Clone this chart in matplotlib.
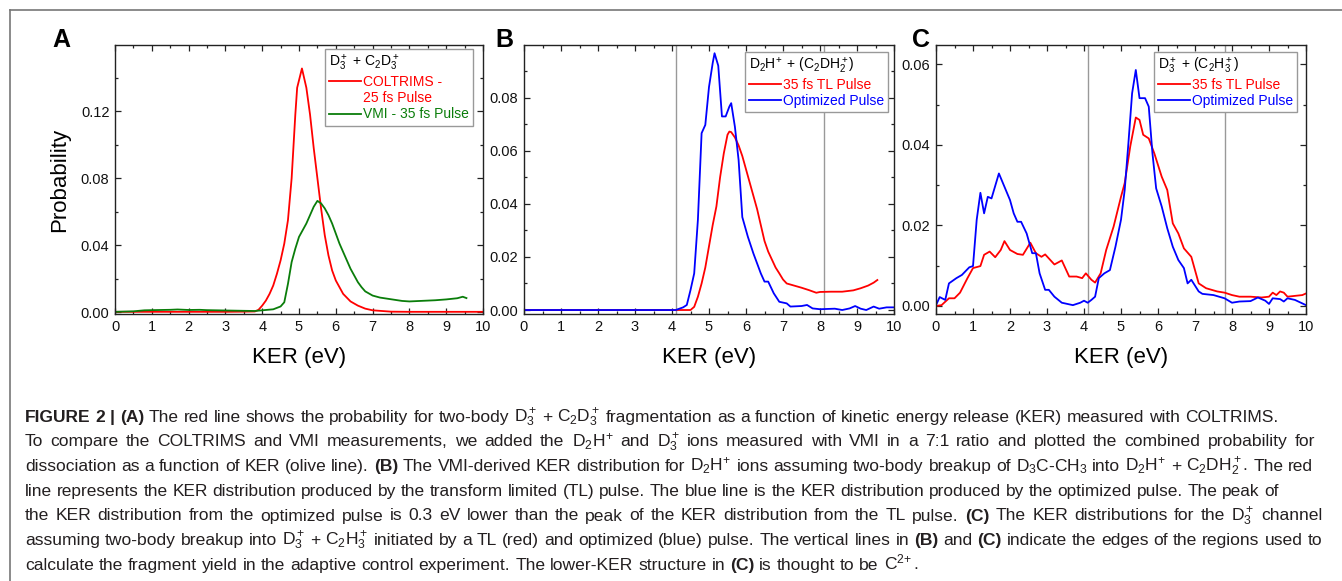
import numpy as np
import matplotlib
matplotlib.use('Agg')
import matplotlib.pyplot as plt
from matplotlib.lines import Line2D
from matplotlib.ticker import MultipleLocator, FormatStrFormatter
from matplotlib import font_manager

# ---- data ----
# (A) D3+ + C2D3+
a_red_x = [0, 0.5, 1, 1.5, 2, 2.5, 3, 3.5, 3.8, 3.9, 4.0, 4.1, 4.2, 4.3, 4.4, 4.5, 4.6, 4.7, 4.8,
           4.9, 4.95, 5.08, 5.2, 5.3, 5.4, 5.5, 5.6, 5.7, 5.8, 5.9, 6.0, 6.2, 6.4, 6.6, 6.8, 7.0,
           7.5, 8.0, 9.0, 10.0]
a_red_y = [0.0003, 0.0003, 0.0003, 0.0003, 0.0003, 0.0003, 0.0003, 0.0004, 0.0005, 0.0015, 0.004,
           0.007, 0.011, 0.016, 0.023, 0.031, 0.041, 0.055, 0.080, 0.118, 0.134, 0.1455, 0.134,
           0.118, 0.098, 0.080, 0.062, 0.046, 0.034, 0.025, 0.019, 0.011, 0.0065, 0.004, 0.0022,
           0.0012, 0.0004, 0.0003, 0.0003, 0.0003]
a_grn_x = [0, 0.5, 0.8, 1.0, 1.5, 1.7, 2.0, 2.3, 2.5, 3.0, 3.5, 3.8, 4.0, 4.3, 4.5, 4.6, 4.7, 4.8,
           4.9, 5.0, 5.1, 5.2, 5.3, 5.4, 5.5, 5.6, 5.7, 5.8, 5.9, 6.0, 6.1, 6.2, 6.3, 6.4, 6.5,
           6.6, 6.7, 6.8, 7.0, 7.2, 7.5, 7.8, 8.0, 8.3, 8.7, 9.0, 9.3, 9.45, 9.55]
a_grn_y = [0.0003, 0.0006, 0.0012, 0.0013, 0.0015, 0.0017, 0.0014, 0.0015, 0.0013, 0.0011, 0.0009,
           0.0008, 0.0012, 0.0018, 0.0035, 0.006, 0.017, 0.030, 0.038, 0.045, 0.049, 0.053, 0.058,
           0.063, 0.0665, 0.065, 0.062, 0.058, 0.053, 0.047, 0.041, 0.036, 0.031, 0.026, 0.022,
           0.018, 0.015, 0.0125, 0.010, 0.0088, 0.0078, 0.0068, 0.0065, 0.0068, 0.0072, 0.0077,
           0.0084, 0.0093, 0.0085]

# (B) D2H+ + (C2DH2+)
b_red_x = [0, 4.5, 4.6, 4.7, 4.8, 4.9, 5.0, 5.1, 5.2, 5.3, 5.4, 5.5, 5.55, 5.6, 5.7, 5.8, 5.9, 6.0,
           6.1, 6.2, 6.3, 6.4, 6.5, 6.6, 6.7, 6.8, 6.9, 7.0, 7.1, 7.3, 7.5, 7.7, 7.9, 8.0, 8.3,
           8.6, 8.9, 9.1, 9.3, 9.45, 9.55]
b_red_y = [0, 0, 0.0012, 0.005, 0.010, 0.016, 0.024, 0.032, 0.039, 0.050, 0.059, 0.066, 0.0672,
           0.067, 0.065, 0.062, 0.058, 0.053, 0.048, 0.043, 0.038, 0.032, 0.026, 0.022, 0.019,
           0.016, 0.0138, 0.0115, 0.010, 0.0092, 0.0084, 0.0075, 0.0065, 0.0068, 0.0069, 0.0069,
           0.0074, 0.0082, 0.0092, 0.0103, 0.0113]
b_blu_x = [0, 4.1, 4.3, 4.4, 4.5, 4.6, 4.7, 4.8, 4.9, 5.0, 5.1, 5.15, 5.25, 5.35, 5.45, 5.55, 5.6,
           5.7, 5.8, 5.9, 6.05, 6.2, 6.4, 6.5, 6.6, 6.75, 6.9, 7.1, 7.2, 7.5, 7.65, 7.8, 8.0, 8.4,
           8.6, 8.8, 8.95, 9.1, 9.25, 9.45, 9.6, 9.8, 10.0]
b_blu_y = [0, 0, 0.001, 0.0019, 0.0075, 0.0138, 0.034, 0.0666, 0.0697, 0.084, 0.093, 0.0967, 0.092,
           0.0729, 0.0729, 0.0766, 0.0779, 0.069, 0.0565, 0.035, 0.0276, 0.0213, 0.0138, 0.0107,
           0.0107, 0.0063, 0.0031, 0.0025, 0.0013, 0.0015, 0.0019, 0.0006, 0.0003, 0.0005, 0.0,
           0.0006, 0.0015, 0.0005, 0.0, 0.0013, 0.0005, 0.001, 0.001]

# (C) D3+ + (C2H3+)
c_blu_x = [0, 0.1, 0.25, 0.35, 0.55, 0.7, 0.9, 1.0, 1.1, 1.2, 1.3, 1.4, 1.5, 1.7, 1.85, 2.0, 2.1,
           2.2, 2.3, 2.45, 2.6, 2.7, 2.8, 2.95, 3.05, 3.2, 3.4, 3.7, 3.9, 4.0, 4.1, 4.2, 4.3, 4.4,
           4.55, 4.7, 4.85, 5.0, 5.1, 5.2, 5.3, 5.4, 5.5, 5.65, 5.75, 5.85, 5.95, 6.1, 6.25, 6.4,
           6.55, 6.7, 6.8, 6.9, 7.1, 7.2, 7.5, 7.8, 8.0, 8.2, 8.5, 8.7, 8.9, 9.0, 9.1, 9.3, 9.4,
           9.5, 9.7, 10.0]
c_blu_y = [0.0002, 0.0022, 0.0015, 0.0056, 0.0069, 0.0077, 0.0096, 0.0099, 0.0214, 0.0281, 0.023,
           0.0271, 0.0267, 0.0329, 0.0296, 0.0263, 0.023, 0.0209, 0.0209, 0.018, 0.0131, 0.0131,
           0.0081, 0.004, 0.004, 0.0023, 0.0008, 0.0002, 0.0008, 0.0013, 0.0008, 0.0015, 0.0023,
           0.0069, 0.0081, 0.0089, 0.0147, 0.0214, 0.0288, 0.0404, 0.0528, 0.0586, 0.0516, 0.0516,
           0.0495, 0.0379, 0.0292, 0.0247, 0.0193, 0.0147, 0.0114, 0.0094, 0.0056, 0.0065, 0.0036,
           0.003, 0.0027, 0.0019, 0.0008, 0.0011, 0.0012, 0.0021, 0.0013, 0.0005, 0.0019, 0.0017,
           0.0011, 0.0019, 0.0015, 0.0002]
c_red_x = [0, 0.15, 0.35, 0.5, 0.65, 0.85, 1.0, 1.2, 1.3, 1.45, 1.6, 1.75, 1.85, 2.0, 2.2, 2.35,
           2.55, 2.7, 2.85, 2.95, 3.2, 3.4, 3.6, 3.8, 3.95, 4.05, 4.2, 4.3, 4.45, 4.6, 4.8, 5.0,
           5.1, 5.25, 5.4, 5.5, 5.6, 5.75, 5.9, 6.1, 6.25, 6.4, 6.55, 6.7, 6.9, 7.1, 7.3, 7.6, 7.8,
           8.0, 8.2, 8.5, 8.8, 9.0, 9.1, 9.2, 9.3, 9.4, 9.5, 9.7, 9.9, 10.0]
c_red_y = [0, 0.0002, 0.0019, 0.0019, 0.0033, 0.0069, 0.0094, 0.0099, 0.0127, 0.0135, 0.0121,
           0.0139, 0.0161, 0.0139, 0.0129, 0.0127, 0.0157, 0.0131, 0.0122, 0.0128, 0.0103, 0.0113,
           0.0073, 0.0073, 0.0069, 0.0081, 0.0065, 0.0058, 0.0081, 0.0139, 0.0197, 0.0271, 0.0305,
           0.0396, 0.0468, 0.0462, 0.0425, 0.0416, 0.0379, 0.0321, 0.0288, 0.0205, 0.018, 0.0143,
           0.0122, 0.0056, 0.0044, 0.0036, 0.0033, 0.0027, 0.0023, 0.0023, 0.0021, 0.0023, 0.0033,
           0.0027, 0.0036, 0.0033, 0.0023, 0.0025, 0.0027, 0.0031]

b_edges = [4.1, 8.1]
c_edges = [4.1, 7.8]

caption = [
    r"**FIGURE 2 | (A)** The red line shows the probability for two-body $\mathrm{D_3^+}$ + $\mathrm{C_2D_3^+}$ fragmentation as a function of kinetic energy release (KER) measured with COLTRIMS.",
    r"To compare the COLTRIMS and VMI measurements, we added the $\mathrm{D_2H^{\!+}}$ and $\mathrm{D_3^+}$ ions measured with VMI in a 7:1 ratio and plotted the combined probability for",
    r"dissociation as a function of KER (olive line). **(B)** The VMI-derived KER distribution for $\mathrm{D_2H^{\!+}}$ ions assuming two-body breakup of $\mathrm{D_3C}$-$\mathrm{CH_3}$ into $\mathrm{D_2H^{\!+}}$ + $\mathrm{C_2DH_2^+}$. The red",
    r"line represents the KER distribution produced by the transform limited (TL) pulse. The blue line is the KER distribution produced by the optimized pulse. The peak of",
    r"the KER distribution from the optimized pulse is 0.3 eV lower than the peak of the KER distribution from the TL pulse. **(C)** The KER distributions for the $\mathrm{D_3^+}$ channel",
    r"assuming two-body breakup into $\mathrm{D_3^+}$ + $\mathrm{C_2H_3^+}$ initiated by a TL (red) and optimized (blue) pulse. The vertical lines in **(B)** and **(C)** indicate the edges of the regions used to",
    r"calculate the fragment yield in the adaptive control experiment. The lower-KER structure in **(C)** is thought to be $\mathrm{C^{2\!+}}$.",
]
caption_right = [1278, 1315, 1313, 1279, 1322, 1322, None]

# ---- fonts ----
names = {f.name for f in font_manager.fontManager.ttflist}
base_font = 'Liberation Sans'
narrow_font = 'Liberation Sans Narrow' if 'Liberation Sans Narrow' in names else None
plt.rcParams['font.family'] = [base_font, 'DejaVu Sans']
plt.rcParams['mathtext.fontset'] = 'custom'
plt.rcParams['mathtext.rm'] = base_font
plt.rcParams['mathtext.it'] = base_font + ':italic'
plt.rcParams['mathtext.bf'] = base_font + ':bold'

W, H = 1342, 581
fig = plt.figure(figsize=(W / 100, H / 100), dpi=100)

red = '#ff0000'
green = '#0a7d0a'
blue = '#0000ff'


def box(l, r, t, b):
    return [l / W, 1 - b / H, (r - l) / W, (b - t) / H]


def style(ax, ylim, ymaj, ymin):
    ax.set_xlim(0, 10)
    ax.set_ylim(*ylim)
    ax.xaxis.set_major_locator(MultipleLocator(1))
    ax.xaxis.set_minor_locator(MultipleLocator(0.5))
    ax.yaxis.set_major_locator(MultipleLocator(ymaj))
    ax.yaxis.set_minor_locator(MultipleLocator(ymin))
    ax.yaxis.set_major_formatter(FormatStrFormatter('%.2f'))
    ax.tick_params(which='both', direction='in', top=True, right=True, color='#222',
                   labelsize=10.5, labelcolor='#111', pad=4, width=0.9)
    ax.tick_params(which='major', length=4)
    ax.tick_params(which='minor', length=2.5)
    for s in ax.spines.values():
        s.set_linewidth(1.0)
        s.set_color('#222')


def legend(ax, handles, labels, colors, title, anchor):
    leg = ax.legend(handles, labels, title=title, loc='upper right', bbox_to_anchor=anchor,
                    borderaxespad=0, fontsize=10, title_fontsize=10, fancybox=False,
                    edgecolor='#999', framealpha=1, handlelength=2.3, handletextpad=0.15,
                    borderpad=0.3, labelspacing=0.15, alignment='left')
    leg.get_frame().set_linewidth(1.0)
    for t, c in zip(leg.get_texts(), colors):
        t.set_color(c)
    return leg


lw = 1.3
axA = fig.add_axes(box(115, 483, 45, 314))
la, = axA.plot(a_red_x, a_red_y, color=red, lw=lw)
lg, = axA.plot(a_grn_x, a_grn_y, color=green, lw=lw)
style(axA, (-0.001, 0.1595), 0.04, 0.02)
blank = Line2D([], [], color='none')
legend(axA, [la, blank, lg], ['COLTRIMS -', '25 fs Pulse', 'VMI - 35 fs Pulse'],
       [red, red, green], r'$\mathrm{D_3^+}$ + $\mathrm{C_2D_3^+}$', (0.973, 0.985))

axB = fig.add_axes(box(524, 894, 45, 314))
for e in b_edges:
    axB.axvline(e, color='#999', lw=1.0)
lr, = axB.plot(b_red_x, b_red_y, color=red, lw=lw)
lb, = axB.plot(b_blu_x, b_blu_y, color=blue, lw=lw)
style(axB, (-0.0015, 0.0998), 0.02, 0.01)
legend(axB, [lr, lb], ['35 fs TL Pulse', 'Optimized Pulse'], [red, blue],
       r'$\mathrm{D_2H^{\!+}}$ + ($\mathrm{C_2DH_2^+}$)', (0.984, 0.974))

axC = fig.add_axes(box(936, 1306, 45, 314))
for e in c_edges:
    axC.axvline(e, color='#999', lw=1.0)
lr, = axC.plot(c_red_x, c_red_y, color=red, lw=lw)
lb, = axC.plot(c_blu_x, c_blu_y, color=blue, lw=lw)
style(axC, (-0.002, 0.0648), 0.02, 0.01)
legend(axC, [lr, lb], ['35 fs TL Pulse', 'Optimized Pulse'], [red, blue],
       r'$\mathrm{D_3^+}$ + ($\mathrm{C_2H_3^+}$)', (0.976, 0.974))

# axis titles and panel letters
for cx in (299, 709, 1121):
    fig.text(cx / W, 1 - 358 / H, 'KER (eV)', ha='center', va='center', fontsize=16)
fig.text(60 / W, 1 - 180 / H, 'Probability', rotation=90, ha='center', va='center', fontsize=16)
for lx, letter in ((52, 'A'), (495, 'B'), (912, 'C')):
    fig.text(lx / W, 1 - 47 / H, letter, ha='left', va='baseline', fontsize=18, fontweight='bold')

# frame around the figure
fig.add_artist(Line2D([10 / W, 10 / W], [0, 1 - 10 / H], transform=fig.transFigure,
                      color='#777', lw=1.2))
fig.add_artist(Line2D([10 / W, 1], [1 - 10 / H, 1 - 10 / H], transform=fig.transFigure,
                      color='#777', lw=1.2))

# caption, justified word by word
renderer = fig.canvas.get_renderer()
cap_size = 12.6
x_start = 25


def place_words(words, family, size, y_px):
    texts = []
    for w, bold in words:
        t = fig.text(0, 1 - y_px / H, w, fontsize=size, family=family,
                     fontweight='bold' if bold else 'normal', ha='left', va='baseline',
                     color='#231f20')
        texts.append(t)
    widths = [t.get_window_extent(renderer).width for t in texts]
    return texts, widths


def space_px(size):
    return 0.278 * size * 100 / 72


for i, line in enumerate(caption):
    y_px = 421.7 + i * 24.7
    words = []
    for k, seg in enumerate(line.split('**')):
        for w in seg.split():
            words.append((w, k % 2 == 1))
    n = len(words)
    right = caption_right[i]
    size, fam = cap_size, base_font
    texts, widths = place_words(words, fam, size, y_px)
    if right is not None:
        avail = right - x_start
        nat = sum(widths) + space_px(size) * (n - 1)
        if nat > avail:
            scale = avail / nat
            if scale < 0.9 and narrow_font is not None:
                fam = narrow_font
            else:
                size = size * scale
            for t in texts:
                t.remove()
            texts, widths = place_words(words, fam, size, y_px)
            nat = sum(widths) + space_px(size) * (n - 1)
            if nat > avail:
                size = size * avail / nat
                for t in texts:
                    t.remove()
                texts, widths = place_words(words, fam, size, y_px)
        gap = (avail - sum(widths)) / (n - 1)
    else:
        gap = space_px(size)
    x = x_start
    for t, w in zip(texts, widths):
        t.set_x(x / W)
        x += w + gap

fig.savefig('out.png', dpi=100, facecolor='white')
